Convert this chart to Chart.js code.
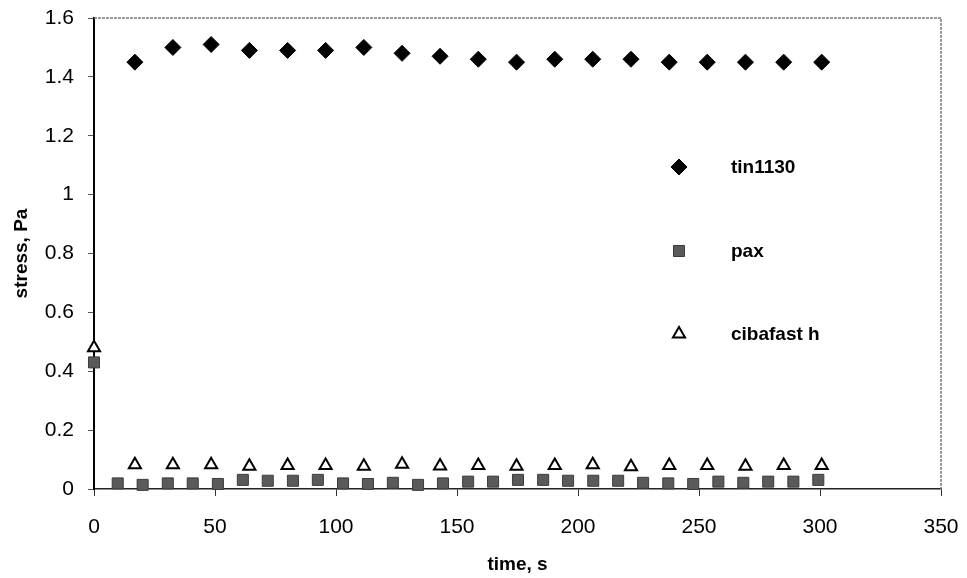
<!DOCTYPE html>
<html>
<head>
<meta charset="utf-8">
<title>stress vs time</title>
<script src="https://cdn.jsdelivr.net/npm/chart.js@4/dist/chart.umd.min.js"></script>
<style>
  html, body { margin: 0; background: #fff; }
  canvas { display: block; }
</style>
</head>
<body>
<canvas id="stressChart" width="967" height="578"></canvas>
<script>
//=[ Data ]=====================================================================

const tinTimes = [
  16.9, 32.6, 48.4, 64.2, 80.0, 95.7, 111.5, 127.3, 143.0, 158.8,
  174.6, 190.4, 206.1, 221.9, 237.7, 253.4, 269.2, 285.0, 300.7,
];
const tinStress = [
  1.45, 1.50, 1.51, 1.49, 1.49, 1.49, 1.50, 1.48, 1.47, 1.46,
  1.45, 1.46, 1.46, 1.46, 1.45, 1.45, 1.45, 1.45, 1.45,
];

const paxTimes = [
  0, 9.8, 20.1, 30.5, 40.8, 51.2, 61.5, 71.8, 82.2, 92.5, 102.9,
  113.2, 123.5, 133.9, 144.2, 154.6, 164.9, 175.2, 185.6, 195.9, 206.3,
  216.6, 226.9, 237.3, 247.6, 258.0, 268.3, 278.6, 289.0, 299.3,
];
const paxStress = [
  0.43, 0.019, 0.014, 0.019, 0.019, 0.017, 0.031, 0.028, 0.028, 0.031, 0.019,
  0.017, 0.021, 0.014, 0.019, 0.025, 0.025, 0.031, 0.031, 0.028, 0.028,
  0.028, 0.021, 0.019, 0.017, 0.025, 0.021, 0.025, 0.025, 0.031,
];

const cibaTimes = [
  0, 16.9, 32.6, 48.4, 64.2, 80.0, 95.7, 111.5, 127.3, 143.0, 158.8,
  174.6, 190.4, 206.1, 221.9, 237.7, 253.4, 269.2, 285.0, 300.7,
];
const cibaStress = [
  0.48, 0.082, 0.082, 0.082, 0.077, 0.080, 0.080, 0.077, 0.084, 0.078, 0.080,
  0.077, 0.080, 0.082, 0.076, 0.080, 0.080, 0.077, 0.080, 0.080,
];

const xTicks = [0, 50, 100, 150, 200, 250, 300, 350];
const yTicks = [0, 0.2, 0.4, 0.6, 0.8, 1, 1.2, 1.4, 1.6];

const toPoints = (xs, ys) => xs.map((x, i) => ({ x, y: ys[i] }));

//=[ Chart ]====================================================================

const FONT = "'Liberation Sans', Arial, Helvetica, sans-serif";

// legend is drawn by hand inside the plot, one row per series
const sideLegend = {
  id: "sideLegend",
  afterDraw(chart) {
    const { ctx } = chart;
    const rows = [167, 251, 334];
    ctx.save();
    ctx.font = `bold 19px ${FONT}`;
    ctx.textBaseline = "middle";
    ctx.textAlign = "left";
    chart.data.datasets.forEach((ds, i) => {
      const y = rows[i];
      ctx.fillStyle = ds.pointBackgroundColor;
      ctx.strokeStyle = ds.pointBorderColor;
      ctx.lineWidth = ds.pointBorderWidth;
      Chart.helpers.drawPoint(
        ctx,
        {
          pointStyle: ds.pointStyle,
          radius: ds.pointRadius,
          rotation: 0,
          borderWidth: ds.pointBorderWidth,
        },
        679,
        y,
      );
      ctx.fillStyle = "#000";
      ctx.fillText(ds.label, 731, y + 1);
    });
    ctx.restore();
  },
};

// grey top and right edges of the plot box
const plotFrame = {
  id: "plotFrame",
  beforeDatasetsDraw(chart) {
    const { ctx, chartArea: a } = chart;
    ctx.save();
    ctx.strokeStyle = "#7a7a7a";
    ctx.lineWidth = 1.5;
    ctx.setLineDash([3, 1]);
    ctx.beginPath();
    ctx.moveTo(a.left, a.top);
    ctx.lineTo(a.right, a.top);
    ctx.lineTo(a.right, a.bottom);
    ctx.stroke();
    ctx.restore();
  },
};

const stressConfig = {
  type: "scatter",
  data: {
    datasets: [
      {
        label: "tin1130",
        data: toPoints(tinTimes, tinStress),
        pointStyle: "rectRot",
        pointRadius: 8,
        pointBackgroundColor: "#000",
        pointBorderColor: "#000",
        pointBorderWidth: 1,
        clip: false,
      },
      {
        label: "pax",
        data: toPoints(paxTimes, paxStress),
        pointStyle: "rect",
        pointRadius: 7.8,
        pointBackgroundColor: "#5a5a5a",
        pointBorderColor: "#3c3c3c",
        pointBorderWidth: 1,
        clip: false,
      },
      {
        label: "cibafast h",
        data: toPoints(cibaTimes, cibaStress),
        pointStyle: "triangle",
        pointRadius: 7,
        pointBackgroundColor: "#fff",
        pointBorderColor: "#000",
        pointBorderWidth: 2,
        clip: false,
      },
    ],
  },
  options: {
    responsive: false,
    animation: false,
    layout: { padding: { top: 18, right: 26, left: 0, bottom: 0 } },
    plugins: {
      legend: { display: false },
      tooltip: { enabled: false },
    },
    scales: {
      x: {
        type: "linear",
        min: 0,
        max: 350,
        afterFit: (scale) => {
          scale.height = 89;
          scale.paddingLeft = 0;
          scale.paddingRight = 0;
        },
        afterBuildTicks: (scale) => {
          scale.ticks = xTicks.map((v) => ({ value: v }));
        },
        ticks: {
          color: "#000",
          padding: 19,
          maxRotation: 0,
          font: { family: FONT, size: 21 },
        },
        grid: {
          drawOnChartArea: false,
          drawTicks: true,
          tickLength: 7,
          color: "#333",
          lineWidth: 1,
        },
        border: { display: true, color: "#222", width: 1.5 },
        title: {
          display: true,
          text: "time, s",
          color: "#000",
          font: { family: FONT, size: 19, weight: "bold" },
          padding: { top: 0, bottom: 2 },
        },
      },
      y: {
        min: 0,
        max: 1.6,
        afterFit: (scale) => {
          scale.width = 94;
          scale.paddingTop = 0;
          scale.paddingBottom = 0;
        },
        afterBuildTicks: (scale) => {
          scale.ticks = yTicks.map((v) => ({ value: v }));
        },
        ticks: {
          color: "#000",
          padding: 14,
          font: { family: FONT, size: 21 },
          callback: (v) => String(Math.round(v * 10) / 10),
        },
        grid: {
          drawOnChartArea: false,
          drawTicks: true,
          tickLength: 6,
          color: "#555",
          lineWidth: 1,
        },
        border: { display: true, color: "#000", width: 2 },
        title: {
          display: true,
          text: "stress, Pa",
          color: "#000",
          font: { family: FONT, size: 19, weight: "bold" },
          padding: { top: 10, bottom: 0 },
        },
      },
    },
  },
  plugins: [plotFrame, sideLegend],
};

new Chart(document.getElementById("stressChart"), stressConfig);
</script>
</body>
</html>
